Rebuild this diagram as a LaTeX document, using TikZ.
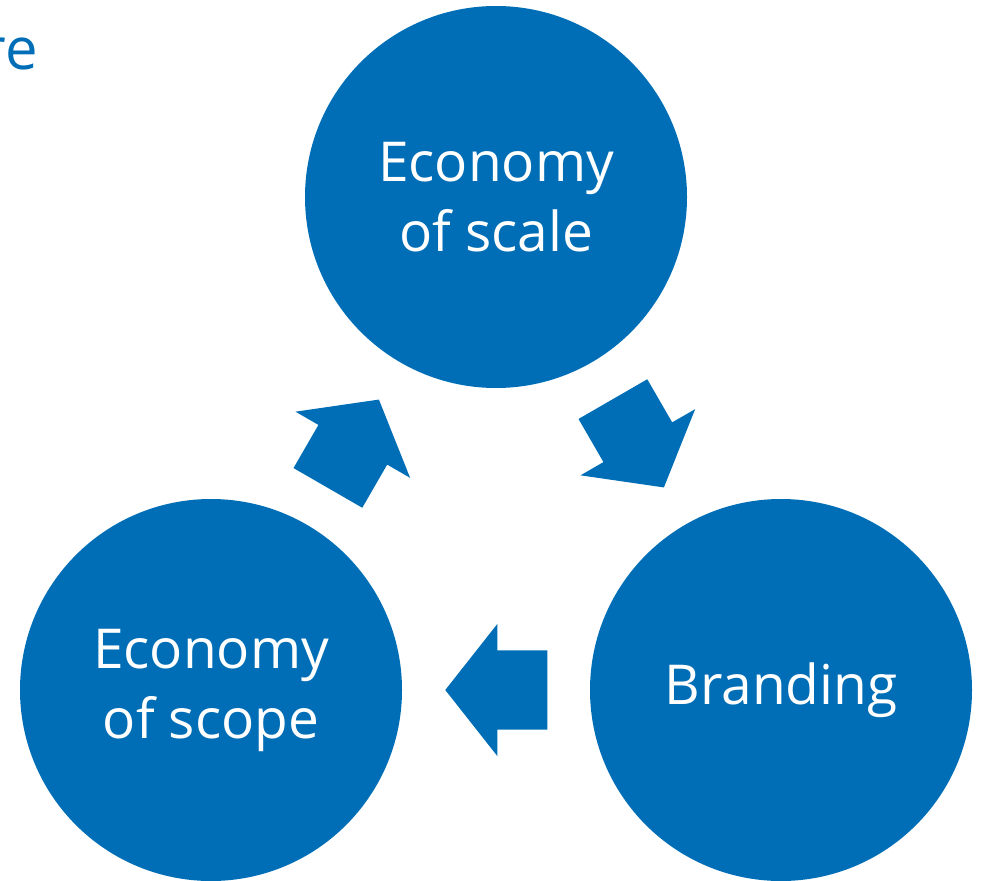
\documentclass[tikz,border=0pt]{standalone}
\usepackage{fontspec}
\setmainfont{Open Sans}
\usepackage{tikz}
\usetikzlibrary{arrows.meta,positioning,shapes.geometric,shapes.arrows,calc}
\definecolor{CycBlue}{HTML}{006EB6}
\tikzset{
  cyc/circle/.style={circle, fill=CycBlue, text=white, inner sep=0pt, minimum size=382pt, align=center, font=\fontsize{55}{70}\selectfont},
  cyc/arrow/.style={single arrow, fill=CycBlue, inner xsep=0pt, inner ysep=39.5pt, minimum height=102pt,
    single arrow head extend=26.5pt, single arrow tip angle=103.5, anchor=tip},
  cyc/title/.style={text=CycBlue, inner sep=0pt, anchor=base east, font=\fontsize{58}{70}\selectfont}
}

\begin{document}
\begin{tikzpicture}[x=1pt, y=-1pt]
  \useasboundingbox (0,0) rectangle (984,880);
  \clip (0,0) rectangle (984,880);
  \node[cyc/title] (title) at (38,70) {re};
  \node[cyc/circle] (scale) at (496,197) {Economy\\of scale};
  \node[cyc/circle] (brand) at (781,690) {Branding};
  \node[cyc/circle] (scope) at (211,690) {Economy\\of scope};
  % block arrows halfway between the circles, tip 51pt past the midpoint
  \node[cyc/arrow, rotate=60] (scope2scale) at ($(scope)!0.5!(scale)!51pt!(scale)$) {};
  \node[cyc/arrow, rotate=-60] (scale2brand) at ($(scale)!0.5!(brand)!51pt!(brand)$) {};
  \node[cyc/arrow, rotate=180] (brand2scope) at ($(brand)!0.5!(scope)!51pt!(scope)$) {};
\end{tikzpicture}
\end{document}
